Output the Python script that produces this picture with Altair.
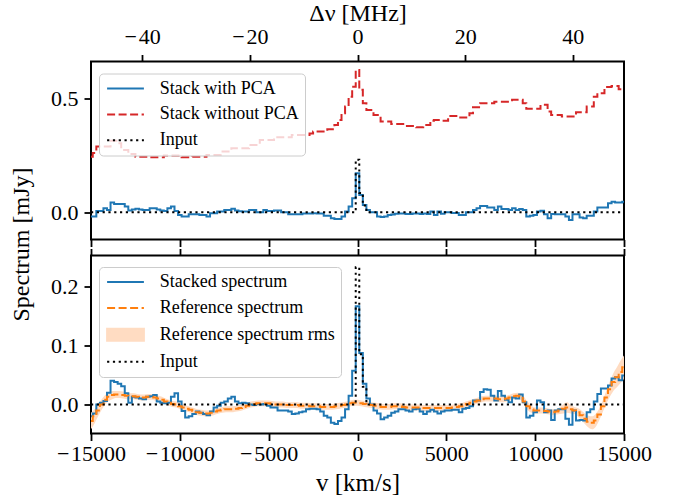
import altair as alt
import pandas as pd

SERIF = "Liberation Serif"
PANEL_W, PANEL_H = 533, 178

# velocity channels (km/s), 200 km/s wide, centred on 0
V_FIRST, V_STEP, N_CHANNELS = -15000, 200, 151
velocity = [V_FIRST + V_STEP * i for i in range(N_CHANNELS)]
V_RANGE = [-15000, 15000]
V_TICKS = [-15000, -10000, -5000, 0, 5000, 10000, 15000]
DNU_RANGE = [-49.5, 49.5]
DNU_TICKS = [-40, -20, 0, 20, 40]

# ---------------- top panel ----------------
stack_with_pca = [
    -0.019, -0.019, 0.006, 0.006, 0.018, 0.010, 0.043, 0.037, 0.037, 0.037,
    0.025, 0.008, 0.012, 0.016, 0.012, 0.010, 0.010, 0.018, 0.018, 0.012,
    0.008, 0.006, 0.018, 0.025, 0.006, -0.012, -0.019, -0.019, -0.009, -0.009,
    -0.009, -0.012, -0.012, -0.019, -0.004, -0.004, 0.003, 0.003, 0.010, 0.010,
    0.016, 0.008, 0.005, 0.003, 0.003, 0.010, 0.010, 0.000, 0.000, 0.010,
    0.006, 0.006, 0.008, 0.008, 0.000, 0.000, -0.009, -0.009, -0.009, -0.009,
    -0.005, -0.005, -0.005, -0.004, -0.005, -0.005, -0.015, -0.015, -0.026, -0.030,
    -0.030, -0.019, 0.003, 0.025, 0.062, 0.172, 0.076, 0.032, 0.010, 0.000,
    0.000, -0.019, -0.021, -0.019, -0.012, -0.010, -0.006, -0.005, -0.005, -0.008,
    -0.008, -0.005, -0.005, -0.008, -0.005, -0.008, 0.003, -0.012, 0.003, -0.006,
    0.000, 0.000, -0.003, -0.003, -0.012, -0.012, 0.000, 0.000, 0.010, 0.018,
    0.028, 0.028, 0.021, 0.021, 0.010, 0.025, 0.015, 0.015, 0.010, 0.018,
    0.010, 0.015, 0.010, -0.019, -0.015, -0.012, 0.003, 0.007, -0.009, -0.026,
    -0.008, -0.009, -0.009, -0.009, -0.019, -0.034, -0.009, -0.009, -0.023, -0.026,
    -0.015, -0.015, 0.003, 0.021, 0.021, 0.021, 0.040, 0.047, 0.043, 0.043,
    0.047,
]

stack_without_pca = [
    0.245, 0.262, 0.290, 0.290, 0.290, 0.290, 0.316, 0.316, 0.305, 0.275,
    0.275, 0.257, 0.257, 0.245, 0.245, 0.245, 0.245, 0.243, 0.243, 0.243,
    0.243, 0.251, 0.251, 0.251, 0.251, 0.251, 0.243, 0.243, 0.243, 0.245,
    0.245, 0.245, 0.245, 0.253, 0.253, 0.253, 0.253, 0.268, 0.268, 0.268,
    0.282, 0.282, 0.282, 0.282, 0.282, 0.297, 0.297, 0.297, 0.319, 0.319,
    0.319, 0.319, 0.331, 0.331, 0.331, 0.331, 0.331, 0.341, 0.341, 0.341,
    0.341, 0.341, 0.348, 0.356, 0.356, 0.356, 0.356, 0.366, 0.366, 0.385,
    0.407, 0.437, 0.466, 0.510, 0.554, 0.628, 0.540, 0.481, 0.451, 0.451,
    0.429, 0.429, 0.400, 0.400, 0.400, 0.389, 0.389, 0.389, 0.389, 0.381,
    0.381, 0.381, 0.375, 0.375, 0.385, 0.385, 0.404, 0.407, 0.407, 0.404,
    0.404, 0.425, 0.425, 0.425, 0.418, 0.418, 0.418, 0.437, 0.463, 0.463,
    0.481, 0.481, 0.481, 0.481, 0.488, 0.488, 0.488, 0.488, 0.488, 0.496,
    0.496, 0.496, 0.481, 0.457, 0.457, 0.457, 0.457, 0.474, 0.474, 0.444,
    0.429, 0.429, 0.429, 0.422, 0.422, 0.422, 0.422, 0.441, 0.441, 0.441,
    0.466, 0.466, 0.510, 0.525, 0.525, 0.552, 0.552, 0.557, 0.557, 0.543,
    0.543,
]

# injected input line (same in both panels)
input_line = [0.0] * 74 + [0.0, 0.232, 0.085, 0.030] + [0.0] * 73

# ---------------- bottom panel ----------------
stacked_spectrum = [
    -0.020, -0.015, 0.000, 0.003, 0.006, 0.020, 0.040, 0.038, 0.035, 0.031,
    0.019, 0.003, 0.013, 0.012, 0.010, 0.009, 0.013, 0.014, 0.016, 0.005,
    0.003, 0.002, 0.003, 0.013, 0.019, 0.005, -0.011, -0.022, -0.020, -0.016,
    -0.012, -0.014, -0.016, -0.018, -0.012, -0.005, -0.002, 0.003, 0.005, 0.010,
    0.013, 0.005, 0.002, 0.003, 0.002, 0.000, -0.001, 0.001, 0.000, 0.001,
    -0.002, -0.005, -0.005, -0.010, -0.010, -0.010, -0.012, -0.016, -0.015, -0.013,
    -0.012, -0.008, -0.007, -0.007, -0.008, -0.012, -0.019, -0.022, -0.031, -0.033,
    -0.028, -0.022, -0.008, 0.015, 0.057, 0.166, 0.087, 0.035, 0.010, 0.000,
    -0.010, -0.015, -0.025, -0.022, -0.019, -0.014, -0.012, -0.008, -0.008, -0.010,
    -0.012, -0.008, -0.007, -0.012, -0.016, -0.012, -0.009, -0.012, -0.015, -0.012,
    -0.010, -0.010, -0.009, -0.009, -0.013, -0.007, -0.006, -0.003, 0.007, 0.007,
    0.021, 0.026, 0.025, 0.015, 0.007, 0.023, 0.015, 0.008, 0.004, 0.012,
    0.010, 0.017, 0.004, -0.022, -0.019, -0.013, 0.007, 0.004, -0.013, -0.010,
    -0.026, -0.010, -0.008, -0.008, -0.024, -0.034, -0.010, -0.027, -0.026, -0.027,
    -0.013, -0.008, 0.005, 0.018, 0.027, 0.027, 0.032, 0.044, 0.046, 0.041,
    0.049,
]

reference_spectrum = [
    -0.028, -0.020, -0.010, 0.000, 0.008, 0.013, 0.016, 0.017, 0.017, 0.016,
    0.015, 0.014, 0.014, 0.013, 0.012, 0.012, 0.013, 0.013, 0.012, 0.010,
    0.008, 0.005, 0.003, 0.001, 0.000, -0.003, -0.005, -0.007, -0.009, -0.011,
    -0.013, -0.014, -0.015, -0.015, -0.014, -0.012, -0.010, -0.009, -0.008, -0.008,
    -0.008, -0.007, -0.006, -0.004, -0.002, 0.000, 0.001, 0.002, 0.002, 0.002,
    0.002, 0.001, 0.000, 0.000, 0.000, -0.001, -0.001, -0.001, -0.001, -0.002,
    -0.002, -0.002, -0.003, -0.003, -0.003, -0.004, -0.004, -0.004, -0.004, -0.003,
    -0.002, -0.001, 0.000, 0.002, 0.003, 0.003, 0.002, 0.001, 0.000, -0.001,
    -0.002, -0.003, -0.004, -0.004, -0.004, -0.003, -0.003, -0.003, -0.004, -0.005,
    -0.005, -0.005, -0.005, -0.006, -0.006, -0.006, -0.006, -0.006, -0.006, -0.006,
    -0.006, -0.006, -0.005, -0.004, -0.003, -0.001, 0.001, 0.003, 0.005, 0.007,
    0.009, 0.010, 0.010, 0.010, 0.010, 0.009, 0.009, 0.010, 0.012, 0.014,
    0.015, 0.013, 0.005, -0.003, -0.008, -0.010, -0.010, -0.010, -0.011, -0.012,
    -0.013, -0.012, -0.010, -0.007, -0.005, -0.008, -0.010, -0.013, -0.018, -0.024,
    -0.029, -0.031, -0.027, -0.017, -0.003, 0.012, 0.026, 0.038, 0.046, 0.055,
    0.063,
]

reference_rms = [
    0.014, 0.012, 0.010, 0.009, 0.008, 0.007, 0.007, 0.006, 0.006, 0.006,
    0.006, 0.005, 0.005, 0.005, 0.005, 0.005, 0.005, 0.005, 0.005, 0.005,
    0.005, 0.005, 0.005, 0.005, 0.005, 0.005, 0.005, 0.005, 0.005, 0.005,
    0.005, 0.005, 0.005, 0.005, 0.005, 0.005, 0.005, 0.005, 0.005, 0.005,
    0.005, 0.005, 0.005, 0.005, 0.005, 0.005, 0.005, 0.005, 0.005, 0.005,
    0.005, 0.005, 0.005, 0.005, 0.005, 0.005, 0.005, 0.005, 0.005, 0.005,
    0.005, 0.005, 0.005, 0.005, 0.005, 0.005, 0.005, 0.005, 0.005, 0.005,
    0.005, 0.005, 0.005, 0.005, 0.005, 0.005, 0.005, 0.005, 0.005, 0.005,
    0.005, 0.005, 0.005, 0.005, 0.005, 0.005, 0.005, 0.005, 0.005, 0.005,
    0.005, 0.005, 0.005, 0.005, 0.005, 0.005, 0.005, 0.005, 0.005, 0.005,
    0.005, 0.005, 0.005, 0.005, 0.005, 0.005, 0.005, 0.005, 0.005, 0.005,
    0.005, 0.005, 0.005, 0.005, 0.005, 0.005, 0.005, 0.005, 0.005, 0.005,
    0.005, 0.006, 0.007, 0.007, 0.006, 0.005, 0.005, 0.005, 0.005, 0.005,
    0.005, 0.005, 0.006, 0.008, 0.009, 0.007, 0.006, 0.007, 0.008, 0.009,
    0.010, 0.011, 0.011, 0.010, 0.010, 0.011, 0.013, 0.015, 0.017, 0.019,
    0.020,
]

TOP_NAMES = ["Stack with PCA", "Stack without PCA", "Input"]
TOP_COLORS = ["#1f77b4", "#d62728", "#000000"]
TOP_DASH = [[1, 0], [8, 3.5], [2.2, 3.6]]

BOT_NAMES = ["Stacked spectrum", "Reference spectrum", "Reference spectrum rms", "Input"]
BOT_COLORS = ["#1f77b4", "#ff7f0e", "#ffdcc2", "#000000"]
BOT_DASH = [[1, 0], [8, 3.5], [1, 0], [2.2, 3.6]]
RMS_NAME = "Reference spectrum rms"
BAND_COLOR = "#ffdcc2"


def long_table(names, arrays):
    rows = []
    for name, values in zip(names, arrays):
        assert len(values) == N_CHANNELS, (name, len(values))
        for v, y in zip(velocity, values):
            rows.append({"v": v, "value": y, "series": name})
    return pd.DataFrame(rows)


top_df = long_table(TOP_NAMES, [stack_with_pca, stack_without_pca, input_line])
bot_df = long_table(["Stacked spectrum", "Reference spectrum", "Input"],
                    [stacked_spectrum, reference_spectrum, input_line])
band_df = pd.DataFrame({
    "v": velocity,
    "lo": [r - s for r, s in zip(reference_spectrum, reference_rms)],
    "hi": [r + s for r, s in zip(reference_spectrum, reference_rms)],
})

LINE_SYMBOL = "M-2.3,0H2.3"
PATCH_SYMBOL = "M-2.3,-0.75H2.3V0.75H-2.3Z"


def make_legend(lx, ly, with_rms=False):
    kw = dict(
        title=None, orient="none", legendX=lx, legendY=ly,
        symbolType=LINE_SYMBOL, symbolSize=256, symbolStrokeWidth=2,
        symbolOffset=11.5, labelOffset=25.3,
        labelFont=SERIF, labelFontSize=18, labelColor="black", labelLimit=500,
        rowPadding=7.9, padding=6,
        fillColor="rgba(255,255,255,0.8)", strokeColor="#cccccc", cornerRadius=4,
    )
    if with_rms:
        kw["symbolType"] = {"expr": f"datum.value === '{RMS_NAME}' ? '{PATCH_SYMBOL}' : '{LINE_SYMBOL}'"}
        kw["symbolFillColor"] = {"expr": f"datum.value === '{RMS_NAME}' ? '{BAND_COLOR}' : 'transparent'"}
    return alt.Legend(**kw)


MINUS_FIX = "replace(datum.label, '\u2212', '\u2212\u200a')"

x_v_hidden = alt.X("v:Q", scale=alt.Scale(domain=V_RANGE, nice=False, zero=False),
                   axis=alt.Axis(orient="bottom", values=V_TICKS, labels=False, title=None))
x_v_main = alt.X("v:Q", scale=alt.Scale(domain=V_RANGE, nice=False, zero=False),
                 axis=alt.Axis(orient="bottom", values=V_TICKS, format="d", title="v [km/s]",
                               labelExpr=MINUS_FIX, labelPadding=3,
                               titlePadding=5.5, titleFontSize=25))

y_top = alt.Y("value:Q", scale=alt.Scale(domain=[-0.12, 0.665], nice=False, zero=False),
              axis=alt.Axis(values=[0.0, 0.5], format=".1f", title="Spectrum [mJy]",
                            labelPadding=6,
                            titleX=-58, titleY=182.5, titleAngle=270, titleFontSize=24,
                            titleBaseline="bottom", titleAlign="center"))
y_bot = alt.Y("value:Q", scale=alt.Scale(domain=[-0.049, 0.252], nice=False, zero=False),
              axis=alt.Axis(values=[0.0, 0.1, 0.2], format=".1f", title=None, labelPadding=6))

top_legend = make_legend(8, 12)
top_color = alt.Color("series:N", scale=alt.Scale(domain=TOP_NAMES, range=TOP_COLORS), legend=top_legend)
top_dash = alt.StrokeDash("series:N", scale=alt.Scale(domain=TOP_NAMES, range=TOP_DASH), legend=top_legend)

bot_legend = make_legend(8, 11.5, with_rms=True)
bot_color = alt.Color("series:N", scale=alt.Scale(domain=BOT_NAMES, range=BOT_COLORS), legend=bot_legend)
bot_dash = alt.StrokeDash("series:N", scale=alt.Scale(domain=BOT_NAMES, range=BOT_DASH), legend=bot_legend)


def series_line(df, name, x_enc, y_enc, color_enc, dash_enc):
    return (alt.Chart(df).transform_filter(alt.datum.series == name)
            .mark_line(interpolate="step", strokeWidth=2, clip=True)
            .encode(x=x_enc, y=y_enc, color=color_enc, strokeDash=dash_enc))


top_lines = alt.layer(*[series_line(top_df, n, x_v_hidden, y_top, top_color, top_dash)
                        for n in TOP_NAMES])

nu_axis = (alt.Chart(pd.DataFrame({"dnu": DNU_RANGE})).mark_point(opacity=0)
           .encode(x=alt.X("dnu:Q", scale=alt.Scale(domain=DNU_RANGE, nice=False, zero=False),
                           axis=alt.Axis(orient="top", values=DNU_TICKS, format="d",
                                         labelExpr=MINUS_FIX, labelPadding=6,
                                         title="Δν [MHz]", titlePadding=0, titleFontSize=24))))

top = (alt.layer(top_lines, nu_axis).resolve_scale(x="independent")
       .properties(width=PANEL_W, height=PANEL_H))

band = (alt.Chart(band_df).mark_area(interpolate="monotone", color=BAND_COLOR, clip=True)
        .encode(x=x_v_main, y=alt.Y("lo:Q", scale=alt.Scale(domain=[-0.049, 0.252], nice=False, zero=False),
                                    axis=alt.Axis(values=[0.0, 0.1, 0.2], format=".1f", title=None,
                                                  labelPadding=6)),
                y2="hi:Q"))

bot_lines = alt.layer(
    band,
    *[series_line(bot_df, n, x_v_main, y_bot, bot_color, bot_dash)
      for n in ["Stacked spectrum", "Reference spectrum", "Input"]],
)

v_top_axis = (alt.Chart(pd.DataFrame({"v2": V_RANGE})).mark_point(opacity=0)
              .encode(x=alt.X("v2:Q", scale=alt.Scale(domain=V_RANGE, nice=False, zero=False),
                              axis=alt.Axis(orient="top", values=V_TICKS, labels=False, title=None))))

bottom = (alt.layer(bot_lines, v_top_axis).resolve_scale(x="independent")
          .properties(width=PANEL_W, height=PANEL_H))

chart = (alt.vconcat(top, bottom, spacing=16, bounds="flush")
         .resolve_scale(color="independent", strokeDash="independent")
         .properties(padding={"left": 8, "top": 0.5, "right": 5, "bottom": 5})
         .configure_view(stroke="black", strokeWidth=2)
         .configure_axis(labelFont=SERIF, labelFontSize=22, labelColor="black",
                         titleFont=SERIF, titleFontWeight="normal",
                         titleColor="black", tickColor="black", tickWidth=1.8, tickSize=7,
                         domain=False, grid=False, labelPadding=4,
                         labelOverlap=False, labelFlush=False))

chart.save("out.html", embed_options={"renderer": "svg", "actions": False})
